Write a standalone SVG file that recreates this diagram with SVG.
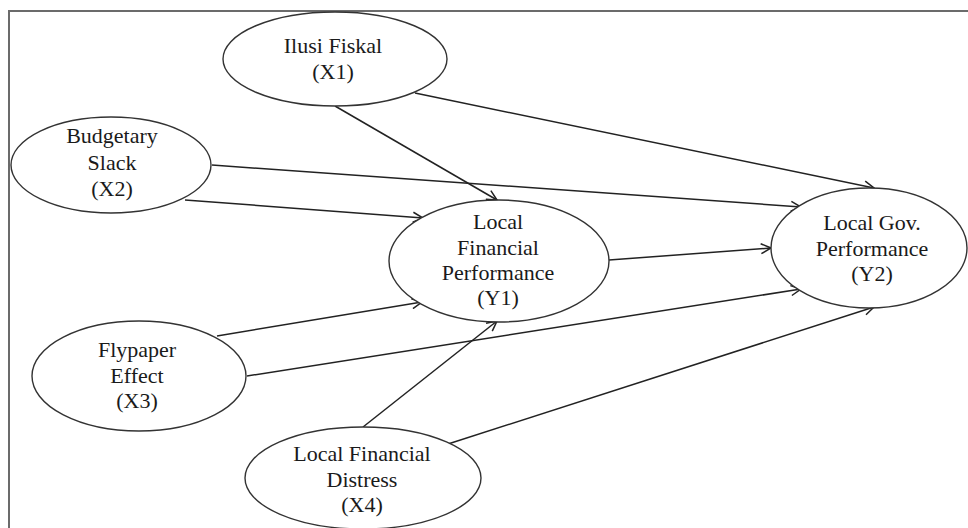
<svg xmlns="http://www.w3.org/2000/svg" width="968" height="528" viewBox="0 0 968 528">
<style>
.n ellipse{fill:#fff;stroke:#333;stroke-width:1.4}
.n text{font-family:"Liberation Serif","Times New Roman",serif;font-size:22px;fill:#1a1a1a;text-anchor:middle}
.c line{stroke:#222;stroke-width:1.5;fill:none}
</style>
<defs>
<marker id="ah" viewBox="0 0 12 12" refX="11" refY="6" markerWidth="12" markerHeight="12" markerUnits="userSpaceOnUse" orient="auto">
<path d="M1,1 L11,6 L1,11" fill="none" stroke="#222" stroke-width="1.5"/>
</marker>
</defs>
<rect width="968" height="528" fill="#fff"/>
<path d="M9,528 V11 H968" fill="none" stroke="#6b6b6b" stroke-width="2"/>
<g class="c">
<line x1="335" y1="106" x2="497" y2="200" marker-end="url(#ah)"/>
<line x1="415" y1="93" x2="874" y2="188" marker-end="url(#ah)"/>
<line x1="212" y1="165" x2="801" y2="207" marker-end="url(#ah)"/>
<line x1="185" y1="200" x2="423" y2="218" marker-end="url(#ah)"/>
<line x1="609" y1="260" x2="771" y2="248" marker-end="url(#ah)"/>
<line x1="217" y1="336" x2="422" y2="302" marker-end="url(#ah)"/>
<line x1="247" y1="376" x2="801" y2="289" marker-end="url(#ah)"/>
<line x1="363" y1="427" x2="497" y2="321" marker-end="url(#ah)"/>
<line x1="448" y1="444" x2="874" y2="307" marker-end="url(#ah)"/>
</g>
<g id="x1" class="n">
<ellipse cx="335" cy="59" rx="112" ry="47"/>
<text x="333" y="53">Ilusi Fiskal</text>
<text x="333" y="79">(X1)</text>
</g>
<g id="x2" class="n">
<ellipse cx="111" cy="165" rx="100" ry="48"/>
<text x="112" y="143">Budgetary</text>
<text x="112" y="170">Slack</text>
<text x="112" y="196">(X2)</text>
</g>
<g id="y1" class="n">
<ellipse cx="499" cy="261" rx="110" ry="61"/>
<text x="498" y="229">Local</text>
<text x="498" y="255">Financial</text>
<text x="498" y="280">Performance</text>
<text x="498" y="305">(Y1)</text>
</g>
<g id="y2" class="n">
<ellipse cx="869" cy="248" rx="98" ry="60"/>
<text x="872" y="230">Local Gov.</text>
<text x="872" y="256">Performance</text>
<text x="872" y="281">(Y2)</text>
</g>
<g id="x3" class="n">
<ellipse cx="139" cy="376" rx="107" ry="55"/>
<text x="137" y="357">Flypaper</text>
<text x="137" y="383">Effect</text>
<text x="137" y="408">(X3)</text>
</g>
<g id="x4" class="n">
<ellipse cx="363" cy="478" rx="118" ry="51"/>
<text x="362" y="461">Local Financial</text>
<text x="362" y="487">Distress</text>
<text x="362" y="512">(X4)</text>
</g>
</svg>
